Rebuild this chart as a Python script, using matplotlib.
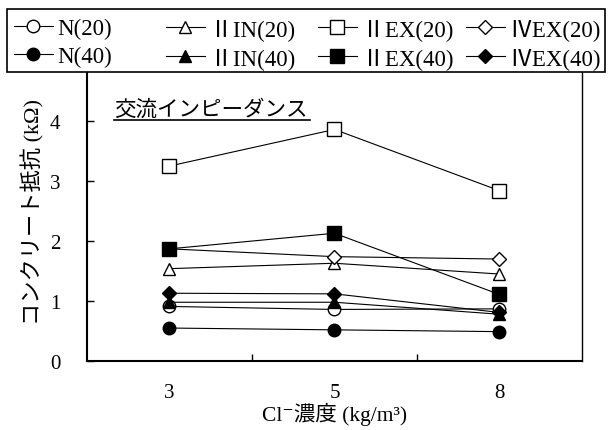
import matplotlib.pyplot as plt
from matplotlib.lines import Line2D
from matplotlib.patches import Rectangle

# data
conc = ['3', '5', '8']
n20 = [0.91, 0.86, 0.87]
n40 = [0.55, 0.52, 0.49]
ii_in20 = [1.54, 1.63, 1.45]
ii_in40 = [0.98, 0.98, 0.78]
ii_ex20 = [3.25, 3.86, 2.84]
ii_ex40 = [1.87, 2.13, 1.11]
iv_ex20 = [1.87, 1.74, 1.70]
iv_ex40 = [1.13, 1.12, 0.81]

serif = ['Liberation Serif', 'Noto Sans CJK JP', 'DejaVu Serif']
jp = ['Noto Sans CJK JP', 'DejaVu Sans']

fig = plt.figure(figsize=(6.11, 4.31), dpi=100)
ax = fig.add_axes([0.1424, 0.160, 0.81, 0.696])

x = range(len(conc))
series = [
    ('N(20)', n20, 'o', 'white', 9),
    ('N(40)', n40, 'o', 'black', 9),
    ('\u2161IN(20)', ii_in20, '^', 'white', 9),
    ('\u2161IN(40)', ii_in40, '^', 'black', 9),
    ('\u2161EX(20)', ii_ex20, 's', 'white', 9.5),
    ('\u2161EX(40)', ii_ex40, 's', 'black', 9.5),
    ('\u2163EX(20)', iv_ex20, 'D', 'white', 7),
    ('\u2163EX(40)', iv_ex40, 'D', 'black', 7),
]
handles = []
for name, vals, mk, fc, ms in series:
    # filled markers sit above the open ones
    z = 3 if fc == 'black' else 2
    h, = ax.plot(x, vals, color='black', lw=0.8, marker=mk, markersize=ms,
                 markerfacecolor=fc, markeredgecolor='black', markeredgewidth=1,
                 label=name, zorder=z)
    handles.append(h)

ax.set_xlim(-0.5, 2.5)
ax.set_ylim(0, 5)
ax.set_yticks([0, 1, 2, 3, 4])
ax.set_xticks([0.5, 1.5])
ax.set_xticklabels([])
ax.tick_params(direction='in', length=5, width=1, labelsize=15)
ax.tick_params(axis='y', pad=19)
for lbl in ax.get_yticklabels():
    lbl.set_family(serif)
for i, c in enumerate(conc):
    ax.text(i, -0.36, c, ha='center', va='top', fontsize=15, family=serif)
for s in ax.spines.values():
    s.set_linewidth(1)
ax.spines['left'].set_linewidth(1.5)
ax.spines['bottom'].set_linewidth(1.5)

ax.set_xlabel('Cl\u207b濃度 (kg/m\u00b3)', family=serif, fontsize=15.5, labelpad=26)
ax.set_ylabel('コンクリート抵抗 (kΩ)', family=serif, fontsize=16, labelpad=4)

# underlined caption
ax.text(0.055, 0.84, '交流インピーダンス', transform=ax.transAxes, family=jp,
        fontsize=15.5, ha='left', va='center')
ax.add_line(Line2D([0.055, 0.45], [0.802, 0.802], transform=ax.transAxes,
                   color='black', lw=1.2))

# legend: four columns at an even pitch inside one black frame
fig.add_artist(Rectangle((7 / 611, 1 - 73 / 431), 598 / 611, 63 / 431,
                         transform=fig.transFigure, facecolor='white',
                         edgecolor='black', lw=1.2, zorder=3))
col_x = [14, 166, 318, 466]
for j, cx in enumerate(col_x):
    leg = fig.legend(handles=handles[2 * j:2 * j + 2], loc='upper left',
                     bbox_to_anchor=(cx / 611, 1 - 19 / 431),
                     prop={'family': serif, 'size': 16.5}, frameon=False,
                     handlelength=1.7, handletextpad=0.2, borderaxespad=0,
                     borderpad=0, labelspacing=0.3)
    leg.set_zorder(4)

fig.savefig('out.png', dpi=100)
